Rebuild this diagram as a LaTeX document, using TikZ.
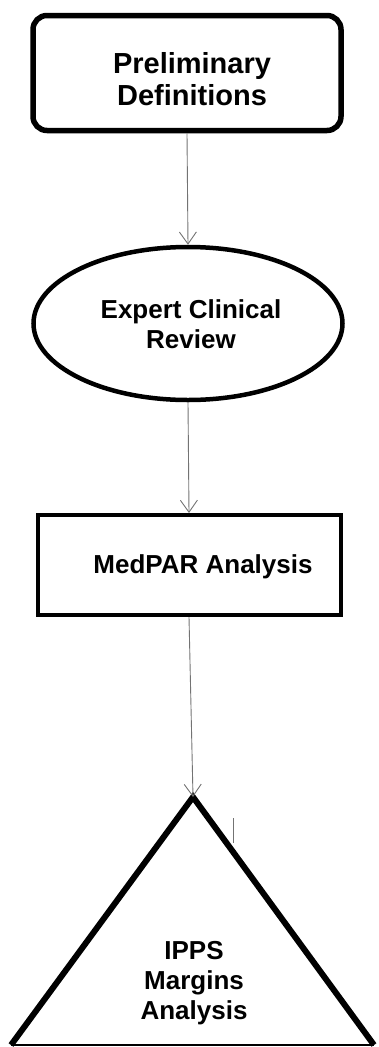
\documentclass[tikz,border=0pt]{standalone}
\usepackage{fontspec}
\setmainfont{Liberation Sans}
\usetikzlibrary{
    arrows.meta,
    shapes.geometric,
    positioning
}
\tikzset{
    startbox/.style={draw, rounded corners=14pt, line width=5.5pt, minimum width=308pt, minimum height=115pt, inner sep=0pt},
    reviewshape/.style={draw, ellipse, line width=4.5pt, minimum width=309pt, minimum height=153pt, inner sep=0pt},
    procbox/.style={draw, rectangle, line width=4pt, minimum width=303pt, minimum height=100pt, inner sep=0pt},
    bigtext/.style={font=\fontsize{29}{32}\selectfont\bfseries, align=center, inner sep=0pt},
    midtext/.style={font=\fontsize{26}{30}\selectfont\bfseries, align=center, inner sep=0pt},
    flow/.style={draw=black!55, line width=0.9pt, -{Straight Barb[length=12pt, width=17pt, line width=0.9pt]}}
}

\begin{document}
\begin{tikzpicture}[x=1pt, y=-1pt]
                        \useasboundingbox (0, 0) rectangle (378, 1047);
                        \node[startbox] (prelim) at (187, 73) {};
                        \node[bigtext] (prelimtext) at (192, 79) {Preliminary\\Definitions};
                        \node[reviewshape] (expert) at (188, 323.5) {};
                        \node[midtext] (experttext) at (191, 324) {Expert Clinical\\Review};
                        \node[procbox] (medpar) at (189, 565) {};
                        \node[midtext] (medpartext) at (203, 567) {MedPAR Analysis};
                        \begin{scope}
                            \coordinate (apex) at (193, 797);
                            \coordinate (baseleft) at (11, 1045);
                            \coordinate (baseright) at (374, 1045);
                            \draw[line width=6pt, line join=miter] (baseleft) -- (apex) -- (baseright);
                            \draw[line width=1.5pt] (baseleft) -- (baseright);
                            \node[midtext] (ippstext) at (194, 983) {IPPS\\Margins\\Analysis};
                            \draw[black!55, line width=0.9pt] (233, 818) -- (233, 843);
                        \end{scope}
                        \draw[flow] (prelim.south) -- (expert.north);
                        \draw[flow] (expert.south) -- (medpar.north);
                        \draw[flow] (medpar.south) -- (apex);
                    \end{tikzpicture}
\end{document}
